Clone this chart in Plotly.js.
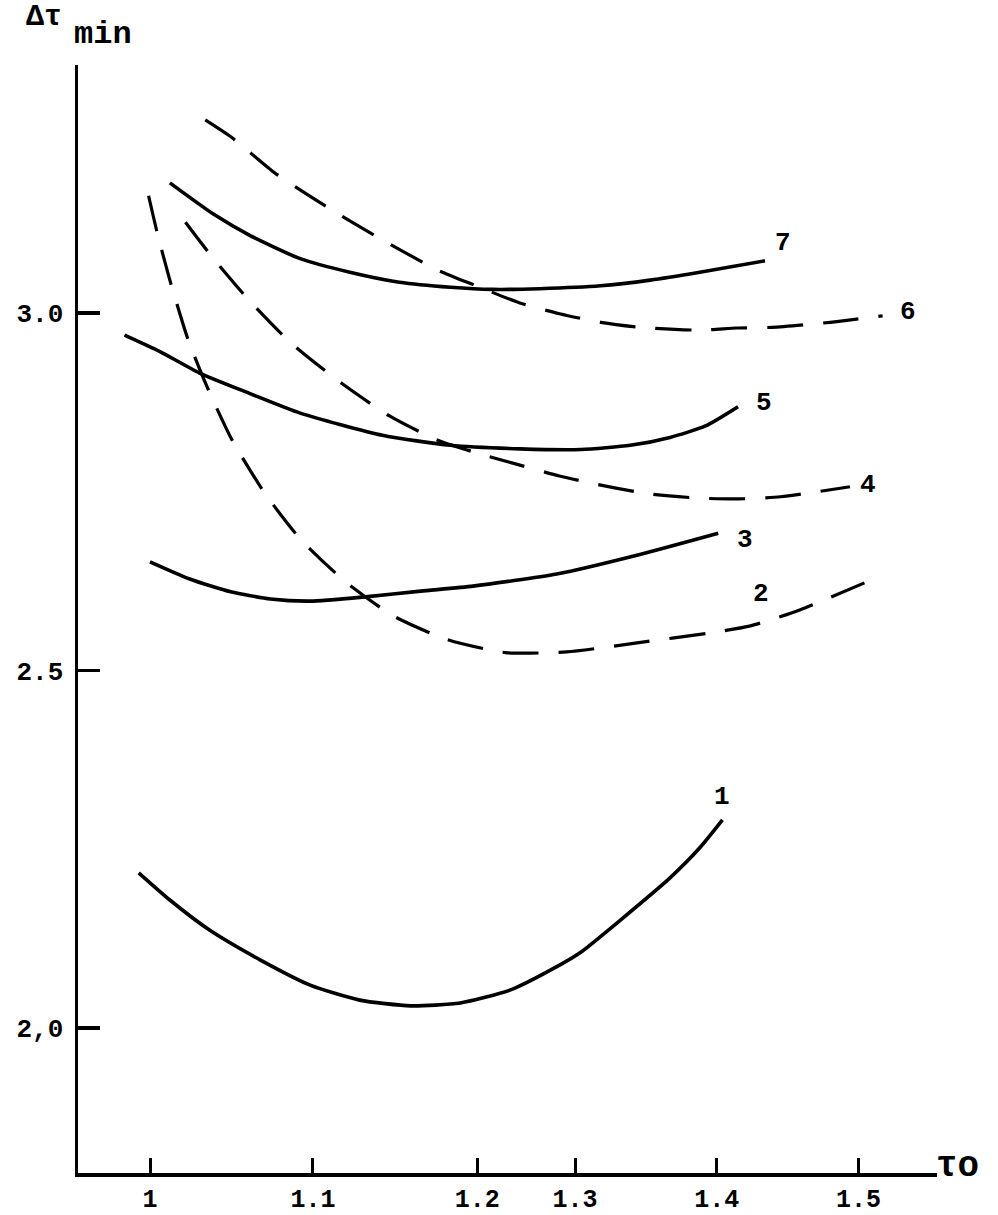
<!DOCTYPE html>
<html>
<head>
<meta charset="utf-8">
<script src="https://cdn.plot.ly/plotly-3.0.1.min.js"></script>
<style>html,body{margin:0;padding:0;background:#fff;}#chart{width:998px;height:1215px;}</style>
</head>
<body>
<div id="chart"></div>
<script>
// x-axis tick positions (as drawn in the original figure) and their labels
const xTickVals = [1, 1.115, 1.231, 1.3, 1.4, 1.5];
const xTickText = ['1', '1.1', '1.2', '1.3', '1.4', '1.5'];
const yTickVals = [2.0, 2.5, 3.0];
const yTickText = ['2,0', '2.5', '3.0'];

// curve 1 (solid)
const c1x = [0.992, 1.014, 1.042, 1.078, 1.113, 1.148, 1.184, 1.219, 1.254, 1.289, 1.304, 1.332, 1.367, 1.388, 1.404];
const c1y = [2.217, 2.179, 2.137, 2.095, 2.060, 2.039, 2.031, 2.035, 2.053, 2.088, 2.106, 2.151, 2.210, 2.252, 2.291];
// curve 2 (dashed)
const c2x = [0.999, 1.005, 1.014, 1.027, 1.040, 1.058, 1.081, 1.106, 1.138, 1.172, 1.210, 1.251, 1.294, 1.345, 1.393, 1.423, 1.459, 1.514];
const c2y = [3.164, 3.113, 3.046, 2.962, 2.898, 2.822, 2.748, 2.684, 2.624, 2.576, 2.543, 2.525, 2.526, 2.539, 2.552, 2.562, 2.585, 2.631];
// curve 3 (solid)
const c3x = [1.000, 1.028, 1.057, 1.085, 1.113, 1.152, 1.191, 1.228, 1.287, 1.345, 1.401];
const c3y = [2.652, 2.628, 2.610, 2.600, 2.597, 2.603, 2.611, 2.618, 2.635, 2.662, 2.692];
// curve 4 (dashed)
const c4x = [1.025, 1.044, 1.068, 1.099, 1.135, 1.169, 1.203, 1.231, 1.256, 1.289, 1.319, 1.352, 1.388, 1.416, 1.445, 1.494];
const c4y = [3.127, 3.078, 3.022, 2.959, 2.902, 2.856, 2.822, 2.804, 2.790, 2.772, 2.759, 2.747, 2.741, 2.740, 2.743, 2.757];
// curve 5 (solid)
const c5x = [0.982, 1.007, 1.035, 1.071, 1.106, 1.164, 1.212, 1.261, 1.304, 1.339, 1.367, 1.392, 1.415];
const c5y = [2.969, 2.946, 2.916, 2.887, 2.860, 2.829, 2.815, 2.810, 2.809, 2.815, 2.826, 2.842, 2.869];
// curve 6 (dashed)
const c6x = [1.039, 1.058, 1.088, 1.126, 1.159, 1.203, 1.229, 1.261, 1.289, 1.318, 1.346, 1.388, 1.414, 1.439, 1.480, 1.517];
const c6y = [3.270, 3.245, 3.196, 3.147, 3.108, 3.060, 3.039, 3.014, 2.999, 2.987, 2.980, 2.976, 2.979, 2.980, 2.987, 2.996];
// curve 7 (solid)
const c7x = [1.014, 1.045, 1.071, 1.106, 1.141, 1.176, 1.212, 1.242, 1.275, 1.318, 1.353, 1.388, 1.434];
const c7y = [3.182, 3.138, 3.108, 3.076, 3.057, 3.043, 3.036, 3.033, 3.034, 3.038, 3.046, 3.057, 3.073];

const curveNames = ['1', '2', '3', '4', '5', '6', '7'];
const curveX = [c1x, c2x, c3x, c4x, c5x, c6x, c7x];
const curveY = [c1y, c2y, c3y, c4y, c5y, c6y, c7y];
const curveDashed = [false, true, false, true, false, true, false];

const FONT = '"Liberation Mono", "DejaVu Sans Mono", monospace';

const traces = curveNames.map((n, i) => ({
  type: 'scatter',
  mode: 'lines',
  name: n,
  x: curveX[i],
  y: curveY[i],
  line: {
    color: '#000',
    width: curveDashed[i] ? 3.2 : 3.6,
    shape: 'spline',
    smoothing: 0.6,
    dash: curveDashed[i] ? '36px,20px' : 'solid'
  },
  hoverinfo: 'skip'
}));

// curve number labels (placed next to the curve ends)
const labelSpots = [
  ['1', 1.404, 2.323], ['2', 1.431, 2.607], ['3', 1.420, 2.683], ['4', 1.507, 2.759],
  ['5', 1.433, 2.874], ['6', 1.535, 3.001], ['7', 1.447, 3.098]
];
const annotations = labelSpots.map(s => ({
  text: '<b>' + s[0] + '</b>', x: s[1], y: s[2], xref: 'x', yref: 'y',
  showarrow: false, xanchor: 'center', yanchor: 'middle',
  font: {family: FONT, size: 26, color: '#000'}
}));

const L = 78, R = 937, T = 65, B = 1173;
const PW = R - L, PH = B - T;
function px(xp) { return (xp - L) / PW; }
function py(yp) { return (B - yp) / PH; }

annotations.push({
  text: '<b>Δτ</b>', xref: 'paper', yref: 'paper', x: px(24), y: py(-2), xanchor: 'left', yanchor: 'top',
  showarrow: false, font: {family: FONT, size: 30, color: '#000'}
});
annotations.push({
  text: '<b>min</b>', xref: 'paper', yref: 'paper', x: px(72), y: py(14), xanchor: 'left', yanchor: 'top',
  showarrow: false, font: {family: FONT, size: 32, color: '#000'}
});
annotations.push({
  text: '<b>τo</b>', xref: 'paper', yref: 'paper', x: px(934), y: py(1166), xanchor: 'left', yanchor: 'middle',
  showarrow: false, font: {family: FONT, size: 36, color: '#000'}
});

const layout = {
  width: 998, height: 1215,
  margin: {l: L, r: 998 - R, t: T, b: 1215 - B},
  paper_bgcolor: '#fff', plot_bgcolor: '#fff',
  showlegend: false,
  xaxis: {
    range: [1 + (L - 150) / 1417, 1 + (R - 150) / 1417],
    tickvals: xTickVals, ticktext: xTickText,
    ticks: 'inside', ticklen: 15, tickwidth: 3, tickcolor: '#000',
    showline: true, linewidth: 3.5, linecolor: '#000',
    showgrid: false, zeroline: false,
    tickfont: {family: FONT, size: 25, color: '#000', weight: 'bold'},
    ticklabelstandoff: 0
  },
  yaxis: {
    range: [2 - (B - 1028) / 715, 2 + (1028 - T) / 715],
    tickvals: yTickVals, ticktext: yTickText,
    ticks: 'inside', ticklen: 22, tickwidth: 3.5, tickcolor: '#000',
    showline: true, linewidth: 3.5, linecolor: '#000',
    showgrid: false, zeroline: false,
    tickfont: {family: FONT, size: 26, color: '#000', weight: 'bold'},
    ticklabelstandoff: 6
  },
  annotations: annotations
};

Plotly.newPlot('chart', traces, layout, {displayModeBar: false, staticPlot: true});
</script>
</body>
</html>
